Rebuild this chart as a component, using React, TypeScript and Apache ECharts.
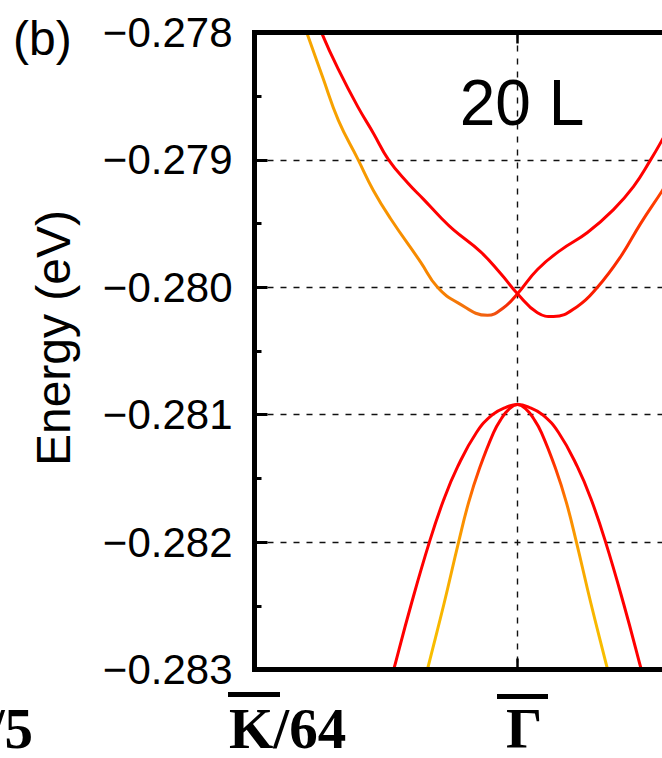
import React, { useEffect, useRef } from 'react';
import * as echarts from 'echarts';

// ---- data (k in units where left edge = -1, Gamma = 0; energy in eV) ----
const kA = [-0.825, -0.798, -0.741, -0.681, -0.608, -0.548, -0.483, -0.369, -0.304, -0.228, -0.114, -0.053, 0, 0.076, 0.163, 0.266, 0.365, 0.441, 0.506, 0.551, 0.59];
const eA = [-0.27786, -0.27802, -0.27835, -0.27869, -0.27899, -0.27924, -0.27946, -0.2798, -0.28, -0.28012, -0.28022, -0.28016, -0.28005, -0.27986, -0.27971, -0.27957, -0.27939, -0.27921, -0.279, -0.27884, -0.27869];

const kB = [-0.768, -0.741, -0.681, -0.608, -0.548, -0.49, -0.418, -0.357, -0.293, -0.243, -0.141, -0.065, 0, 0.076, 0.137, 0.228, 0.304, 0.392, 0.468, 0.551, 0.59];
const eB = [-0.27786, -0.27802, -0.27829, -0.27858, -0.27879, -0.279, -0.27918, -0.27931, -0.27945, -0.27955, -0.27972, -0.27989, -0.28005, -0.2802, -0.28023, -0.28015, -0.28, -0.27976, -0.2795, -0.27924, -0.27911];

const kC = [-0.49, -0.468, -0.403, -0.335, -0.281, -0.228, -0.156, -0.095, -0.042, 0, 0.042, 0.095, 0.156, 0.228, 0.281, 0.335, 0.403, 0.468, 0.49];
const eC = [-0.28316, -0.28298, -0.28248, -0.282, -0.28167, -0.28141, -0.28114, -0.281, -0.28094, -0.28092, -0.28094, -0.281, -0.28114, -0.28141, -0.28167, -0.282, -0.28248, -0.28298, -0.28316];

const kD = [-0.361, -0.34, -0.279, -0.224, -0.186, -0.146, -0.091, -0.061, -0.034, 0, 0.034, 0.061, 0.091, 0.146, 0.186, 0.224, 0.279, 0.34, 0.361];
const eD = [-0.28316, -0.28298, -0.28248, -0.282, -0.28169, -0.28143, -0.28114, -0.28103, -0.28096, -0.28092, -0.28096, -0.28103, -0.28114, -0.28143, -0.28169, -0.282, -0.28248, -0.28298, -0.28316];

const yMin = -0.283;
const yMax = -0.278;
const yStep = 0.001;
const xMin = -1;
const xMax = 1;

const panelLabel = '(b)';
const layerLabel = '20 L';
const yAxisName = 'Energy (eV)';
const kLabelLeft = '/5';
const kLabelK = 'K/64';
const kLabelG = 'Γ';

// ---- colour helpers (style only) ----
function hexToRgb(h: string) {
  const v = parseInt(h.slice(1), 16);
  return [(v >> 16) & 255, (v >> 8) & 255, v & 255];
}
function rgbToHex(c: number[]) {
  return '#' + c.map((x) => Math.round(x).toString(16).padStart(2, '0')).join('');
}
function sampleColors(min: number, max: number, anchors: [number, string][], n = 48) {
  const out: string[] = [];
  for (let i = 0; i < n; i++) {
    const v = min + ((max - min) * i) / (n - 1);
    let c = anchors[anchors.length - 1][1];
    if (v <= anchors[0][0]) c = anchors[0][1];
    else {
      for (let j = 0; j < anchors.length - 1; j++) {
        const [v0, c0] = anchors[j];
        const [v1, c1] = anchors[j + 1];
        if (v >= v0 && v <= v1) {
          const t = (v - v0) / (v1 - v0);
          const a = hexToRgb(c0);
          const b = hexToRgb(c1);
          c = rgbToHex(a.map((x, k) => x + (b[k] - x) * t));
          break;
        }
      }
    }
    out.push(c);
  }
  return out;
}

const zip = (k: number[], e: number[]) => k.map((v, i) => [v, e[i]]);

const SANS = '"Liberation Sans", Arial, Helvetica, sans-serif';
const SERIF = '"Liberation Serif", "Times New Roman", serif';

export default function App() {
  const ref = useRef<HTMLDivElement>(null);
  useEffect(() => {
    if (!ref.current) return;
    const chart = echarts.init(ref.current, undefined, { renderer: 'svg' });

    const dash = { color: '#111', width: 1.4, type: [6, 7] as any };
    const lineW = 3;
    const tickStyle = { color: '#000', width: 2.5 };

    const option: any = {
      animation: false,
      backgroundColor: '#ffffff',
      grid: {
        left: 254.5,
        top: 32.5,
        width: 526,
        height: 637,
        show: true,
        borderColor: '#000',
        borderWidth: 5,
        backgroundColor: 'transparent',
        containLabel: false,
        outerBoundsMode: 'none',
        z: 3,
      },
      xAxis: [
        {
          type: 'value',
          min: xMin,
          max: xMax,
          interval: 1,
          axisLine: { show: false, onZero: false },
          axisTick: { show: true, inside: true, length: 11, lineStyle: tickStyle },
          axisLabel: { show: false },
          splitLine: { show: true, lineStyle: dash },
        },
        {
          type: 'value',
          position: 'top',
          min: xMin,
          max: xMax,
          interval: 1,
          axisLine: { show: false, onZero: false },
          axisTick: { show: true, inside: true, length: 11, lineStyle: tickStyle },
          axisLabel: { show: false },
          splitLine: { show: false },
        },
      ],
      yAxis: {
        type: 'value',
        position: 'left',
        min: yMin,
        max: yMax,
        interval: yStep,
        axisLine: { show: false, onZero: false },
        axisTick: { show: true, inside: true, length: 13, lineStyle: { color: '#000', width: 3 } },
        minorTick: { show: true, splitNumber: 2, length: 7, lineStyle: { color: '#000', width: 3 } },
        axisLabel: {
          fontSize: 42,
          fontFamily: SANS,
          color: '#000',
          margin: 22,
          formatter: (v: number) => v.toFixed(3).replace('-', '\u2212'),
        },
        splitLine: { show: true, lineStyle: dash },
      },
      visualMap: [
        {
          type: 'continuous',
          show: false,
          seriesIndex: 0,
          dimension: 0,
          min: -0.9,
          max: 0.7,
          inRange: {
            color: sampleColors(-0.9, 0.7, [
              [-0.9, '#f7aa00'],
              [-0.75, '#f7a400'],
              [-0.5, '#f79400'],
              [-0.3, '#f78200'],
              [-0.15, '#f26a10'],
              [-0.07, '#f04a10'],
              [-0.02, '#f81800'],
              [0.02, '#ff0000'],
              [0.7, '#ff0000'],
            ]),
          },
        },
        {
          type: 'continuous',
          show: false,
          seriesIndex: 1,
          dimension: 0,
          min: -0.9,
          max: 0.7,
          inRange: {
            color: sampleColors(-0.9, 0.7, [
              [-0.9, '#ff0000'],
              [0.18, '#ff0000'],
              [0.3, '#fa2200'],
              [0.55, '#ff4000'],
              [0.7, '#ff4400'],
            ]),
          },
        },
        {
          type: 'continuous',
          show: false,
          seriesIndex: 3,
          dimension: 1,
          min: -0.2835,
          max: -0.2805,
          inRange: {
            color: sampleColors(-0.2835, -0.2805, [
              [-0.2835, '#f8c400'],
              [-0.28298, '#f8c000'],
              [-0.28248, '#f8b400'],
              [-0.282, '#f9a000'],
              [-0.28169, '#fd8000'],
              [-0.28143, '#ff4000'],
              [-0.2812, '#ff0000'],
              [-0.2805, '#ff0000'],
            ]),
          },
        },
      ],
      series: [
        { type: 'line', data: zip(kA, eA), showSymbol: false, symbol: 'none', smooth: 0.45, lineStyle: { width: lineW }, z: 2 },
        { type: 'line', data: zip(kB, eB), showSymbol: false, symbol: 'none', smooth: 0.45, lineStyle: { width: lineW }, z: 2 },
        { type: 'line', data: zip(kC, eC), showSymbol: false, symbol: 'none', smooth: 0.45, lineStyle: { width: lineW, color: '#ff0000' }, itemStyle: { color: '#ff0000' }, z: 2 },
        { type: 'line', data: zip(kD, eD), showSymbol: false, symbol: 'none', smooth: 0.45, lineStyle: { width: lineW }, z: 2 },
      ],
      graphic: [
        {
          type: 'text',
          x: 13,
          y: 38,
          style: { text: panelLabel, font: `48px ${SANS}`, fill: '#000', textAlign: 'left', textVerticalAlign: 'middle' },
        },
        {
          type: 'text',
          x: 522,
          y: 103,
          style: { text: layerLabel, font: `64px ${SANS}`, fill: '#000', textAlign: 'center', textVerticalAlign: 'middle' },
        },
        {
          type: 'text',
          x: 53,
          y: 338,
          rotation: Math.PI / 2,
          style: { text: yAxisName, font: `48px ${SANS}`, fill: '#000', textAlign: 'center', textVerticalAlign: 'middle' },
        },
        {
          type: 'text',
          x: 33,
          y: 757,
          style: { text: kLabelLeft, font: `bold 57px ${SERIF}`, fill: '#000', textAlign: 'right', textVerticalAlign: 'bottom' },
        },
        {
          type: 'text',
          x: 229,
          y: 757,
          style: { text: kLabelK, font: `bold 57px ${SERIF}`, fill: '#000', textAlign: 'left', textVerticalAlign: 'bottom' },
        },
        { type: 'rect', shape: { x: 228, y: 692, width: 52, height: 5 }, style: { fill: '#000' } },
        {
          type: 'text',
          x: 524,
          y: 757,
          style: { text: kLabelG, font: `bold 57px ${SERIF}`, fill: '#000', textAlign: 'center', textVerticalAlign: 'bottom' },
        },
        { type: 'rect', shape: { x: 497, y: 694, width: 51, height: 5 }, style: { fill: '#000' } },
      ],
    };

    chart.setOption(option);
    return () => chart.dispose();
  }, []);

  return (
    <div
      ref={ref}
      style={{ position: 'absolute', left: 0, top: 0, width: 662, height: 758, overflow: 'hidden', background: '#fff' }}
    />
  );
}
